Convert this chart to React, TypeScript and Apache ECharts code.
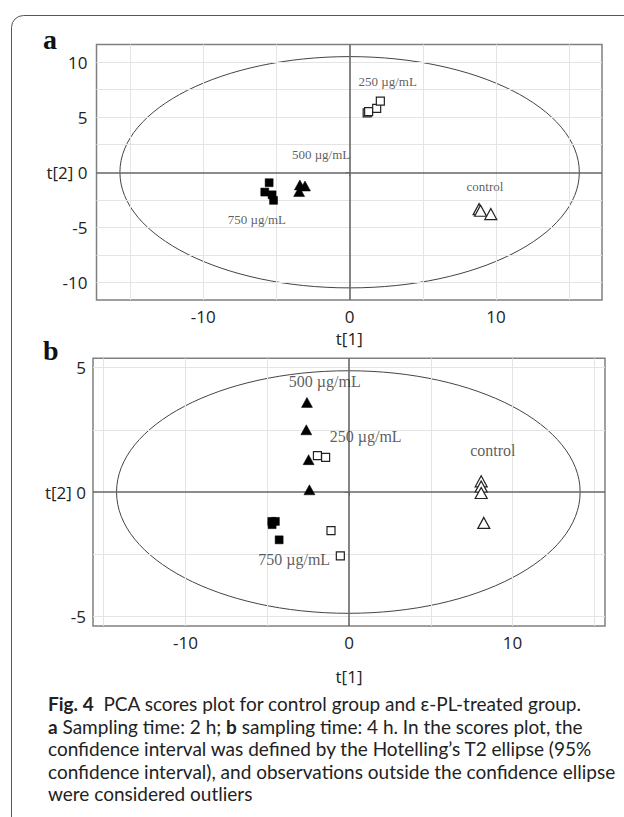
import React, { useEffect, useRef } from 'react';
import * as echarts from 'echarts';

// ---- axes ----
const xTicks = [-15, -10, -5, 0, 5, 10, 15];
const xLabels = [-10, 0, 10];
const xGridVals = [-15, -10, -5, 5, 10, 15];
const aYTicks = [-10, -7.5, -5, -2.5, 0, 2.5, 5, 7.5, 10];
const aYLabels = [-10, -5, 0, 5, 10];
const aYGridVals = [-10, -7.5, -5, -2.5, 2.5, 5, 7.5, 10];
const bYTicks = [-5, 0, 5];
const bYLabels = [-5, 0, 5];
const bYGridVals = [-5, -2.5, 2.5, 5];

// ---- panel a (2 h) scores ----
const a250 = [[1.2, 5.4], [1.3, 5.5], [1.85, 5.8], [2.1, 6.45]];
const a500 = [[-3.4, -1.15], [-3.05, -1.25], [-3.45, -1.75]];
const a750 = [[-5.5, -0.95], [-5.8, -1.8], [-5.3, -2.05], [-5.2, -2.55]];
const aControl = [[8.85, -3.35], [8.95, -3.5], [9.65, -3.8]];
const aEllipse = [0, 0, 15.7, 10.5];

// ---- panel b (4 h) scores ----
const b250 = [[-1.93, 1.46], [-1.43, 1.39], [-1.1, -1.55], [-0.53, -2.56]];
const b500 = [[-2.57, 3.6], [-2.61, 2.5], [-2.47, 1.3], [-2.42, 0.09]];
const b750 = [[-4.72, -1.18], [-4.5, -1.18], [-4.7, -1.31], [-4.27, -1.92]];
const bControl = [[8.08, 0.43], [8.08, 0.22], [8.08, -0.04], [8.24, -1.24]];
const bEllipse = [-0.04, 0, 14.17, 4.87];

// ---- group labels ----
const groupNames = ['250 µg/mL', '500 µg/mL', '750 µg/mL', 'control'];
const aLabelPos = [[2.6, 8.25], [-1.95, 1.63], [-6.34, -4.3], [9.25, -1.3]];
const bLabelPos = [[1.02, 2.24], [-1.48, 4.44], [-3.35, -2.72], [8.79, 1.66]];

// ---- caption ----
const captionLines = [
  '{b|Fig. 4}{n|  PCA scores plot for control group and ε-PL-treated group.}',
  '{b|a}{n| Sampling time: 2 h; }{b|b}{n| sampling time: 4 h. In the scores plot, the}',
  '{n|confidence interval was defined by the Hotelling’s T2 ellipse (95%}',
  '{n|confidence interval), and observations outside the confidence ellipse}',
  '{n|were considered outliers}',
];

const SANS = '"Open Sans", "Noto Sans", sans-serif';
const SERIF = '"Liberation Serif", "DejaVu Serif", serif';
const CAP = 'Lato, "Open Sans", sans-serif';

function App() {
  const ref = useRef<HTMLDivElement>(null);
  useEffect(() => {
    if (!ref.current) return;
    const chart = echarts.init(ref.current, undefined, { renderer: 'svg' });

    const xAxisCfg = (gridIndex: number, min: number, max: number, nameGap: number) => ({
      type: 'value', gridIndex, min, max,
      axisLine: { show: false },
      splitLine: { show: false },
      axisTick: { show: true, inside: false, length: 4, customValues: xTicks, lineStyle: { color: '#777', width: 1 } },
      axisLabel: { customValues: xLabels, margin: 8, fontFamily: SANS, fontSize: 17, color: '#222' },
      name: 't[1]', nameLocation: 'middle', nameGap,
      nameTextStyle: { fontFamily: SANS, fontSize: 17, color: '#222', verticalAlign: 'top' },
    });
    const yAxisCfg = (gridIndex: number, min: number, max: number, ticks: number[], labels: number[], margin: number) => ({
      type: 'value', gridIndex, min, max,
      axisLine: { show: false },
      splitLine: { show: false },
      axisTick: { show: true, inside: false, length: 4, customValues: ticks, lineStyle: { color: '#777', width: 1 } },
      axisLabel: {
        customValues: labels, margin, fontFamily: SANS, fontSize: 17, color: '#222', align: 'right',
        formatter: (v: number) => (v === 0 ? 't[2] 0' : String(v)),
      },
    });

    const gridLines = (idx: number, xs: number[], ys: number[]) => ({
      type: 'scatter', xAxisIndex: idx, yAxisIndex: idx, data: [], silent: true, z: 1,
      markLine: {
        silent: true, symbol: ['none', 'none'], label: { show: false },
        lineStyle: { color: '#e4e4e4', width: 1, type: 'solid' },
        emphasis: { disabled: true },
        data: [...xs.map((v) => ({ xAxis: v })), ...ys.map((v) => ({ yAxis: v }))],
      },
    });
    const zeroLines = (idx: number) => ({
      type: 'scatter', xAxisIndex: idx, yAxisIndex: idx, data: [], silent: true, z: 2,
      markLine: {
        silent: true, symbol: ['none', 'none'], label: { show: false },
        lineStyle: { color: '#666', width: 1.6, type: 'solid' },
        emphasis: { disabled: true },
        data: [{ xAxis: 0 }, { yAxis: 0 }],
      },
    });
    const ellipse = (idx: number, e: number[]) => ({
      type: 'custom', xAxisIndex: idx, yAxisIndex: idx, silent: true, z: 3,
      data: [e],
      renderItem: (params: any, api: any) => {
        const c = api.coord([api.value(0), api.value(1)]);
        const s = api.size([api.value(2), api.value(3)]);
        return {
          type: 'ellipse',
          shape: { cx: c[0], cy: c[1], rx: s[0], ry: s[1] },
          style: { fill: 'none', stroke: '#444', lineWidth: 1 },
        };
      },
    });
    const pts = (idx: number, data: number[][], symbol: string, size: any, filled: boolean) => ({
      type: 'scatter', xAxisIndex: idx, yAxisIndex: idx, data, symbol, symbolSize: size, z: 5,
      itemStyle: filled
        ? { color: '#000', borderColor: '#000', borderWidth: 0.5, opacity: 1 }
        : { color: '#fff', borderColor: '#222', borderWidth: 1.2, opacity: 1 },
    });
    const labels = (idx: number, pos: number[][], fontSize: number) => ({
      type: 'scatter', xAxisIndex: idx, yAxisIndex: idx, silent: true, z: 6,
      symbol: 'circle', symbolSize: 1,
      itemStyle: { color: 'rgba(0,0,0,0)' },
      data: pos.map((p, i) => ({ name: groupNames[i], value: p })),
      label: { show: true, position: 'inside', formatter: '{b}', fontFamily: SERIF, fontSize, color: '#333' },
    });

    const graphic: any[] = [
      { type: 'rect', silent: true, shape: { x: 11.5, y: 15.5, width: 800, height: 1000, r: 12 },
        style: { fill: 'none', stroke: '#555', lineWidth: 1 } },
      { type: 'text', x: 43, y: 39, silent: true,
        style: { text: 'a', fontFamily: SERIF, fontWeight: 'bold', fontSize: 28, fill: '#111', verticalAlign: 'middle' } },
      { type: 'text', x: 43, y: 350, silent: true,
        style: { text: 'b', fontFamily: SERIF, fontWeight: 'bold', fontSize: 28, fill: '#111', verticalAlign: 'middle' } },
    ];
    const capY = [703, 726, 748.5, 771, 793.5];
    captionLines.forEach((t, i) => {
      graphic.push({
        type: 'text', x: 48, y: capY[i], silent: true,
        style: {
          text: t, verticalAlign: 'middle', fill: '#222',
          rich: {
            b: { fontFamily: CAP, fontSize: 19, fontWeight: 'bold', fill: '#222' },
            n: { fontFamily: CAP, fontSize: 19, fontWeight: 'normal', fill: '#222' },
          },
        },
      });
    });

    chart.setOption({
      animation: false,
      backgroundColor: '#fff',
      grid: [
        { left: 96.5, top: 44.5, width: 505.5, height: 255.5, show: true, borderColor: '#808080', borderWidth: 1.5, outerBoundsMode: 'none' },
        { left: 93, top: 358.3, width: 512, height: 267.7, show: true, borderColor: '#808080', borderWidth: 1.5, outerBoundsMode: 'none' },
      ],
      xAxis: [xAxisCfg(0, -17.3, 17.25, 30), xAxisCfg(1, -15.65, 15.65, 42)],
      yAxis: [
        yAxisCfg(0, -11.6, 11.6, aYTicks, aYLabels, 9),
        yAxisCfg(1, -5.38, 5.37, bYTicks, bYLabels, 7),
      ],
      series: [
        gridLines(0, xGridVals, aYGridVals),
        zeroLines(0),
        ellipse(0, aEllipse),
        pts(0, a250, 'rect', 8, false),
        pts(0, a500, 'triangle', [11, 10], true),
        pts(0, a750, 'rect', 8, true),
        pts(0, aControl, 'triangle', [12, 11], false),
        labels(0, aLabelPos, 13),
        gridLines(1, xGridVals, bYGridVals),
        zeroLines(1),
        ellipse(1, bEllipse),
        pts(1, b250, 'rect', 8, false),
        pts(1, b500, 'triangle', [11, 10], true),
        pts(1, b750, 'rect', 8, true),
        pts(1, bControl, 'triangle', [12, 11], false),
        labels(1, bLabelPos, 16),
      ],
      graphic,
    });
    return () => chart.dispose();
  }, []);
  return <div ref={ref} style={{ position: 'absolute', left: 0, top: 0, width: 624, height: 817, background: '#fff' }} />;
}

export default App;
